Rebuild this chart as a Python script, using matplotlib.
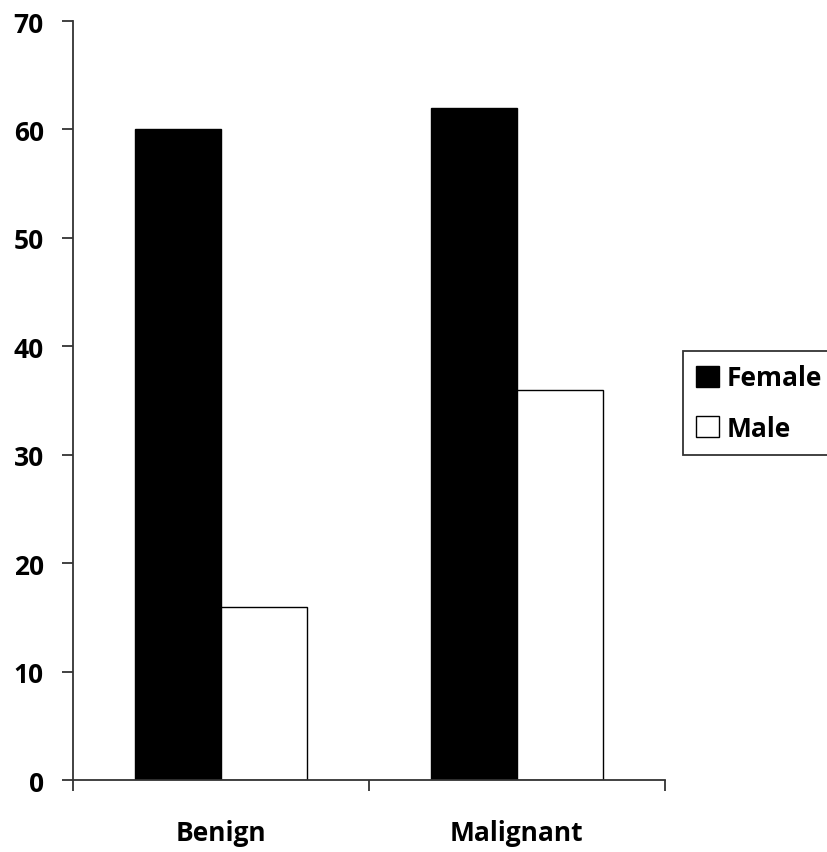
import matplotlib
matplotlib.use("Agg")
import matplotlib.pyplot as plt
import numpy as np

# data
categories = ["Benign", "Malignant"]
female = [60, 62]
male = [16, 36]
y_ticks = [0, 10, 20, 30, 40, 50, 60, 70]

plt.rcParams['font.family'] = ['Open Sans', 'DejaVu Sans']
plt.rcParams['font.weight'] = 'bold'

fig = plt.figure(figsize=(8.27, 8.53), dpi=100)
ax = fig.add_axes([0.0883, 0.0844, 0.7157, 0.8898])

centers = np.arange(len(categories)) + 0.5
width = 0.29
ax.bar(centers - width / 2, female, width, color='black', edgecolor='black',
       linewidth=1, label='Female')
ax.bar(centers + width / 2, male, width, color='white', edgecolor='black',
       linewidth=1, label='Male')

ax.set_xlim(0, len(categories))
ax.set_ylim(0, 70)
ax.set_yticks(y_ticks)
ax.set_xticks(np.arange(len(categories) + 1))
ax.set_xticklabels([])
ax.set_xticks(centers, minor=True)
ax.set_xticklabels(categories, minor=True)

for s in ['top', 'right']:
    ax.spines[s].set_visible(False)
for s in ['left', 'bottom']:
    ax.spines[s].set_color('#333333')
    ax.spines[s].set_linewidth(1.3)

ax.tick_params(axis='y', direction='out', length=8, width=1.3, color='#333333',
               labelsize=19, pad=13)
ax.tick_params(axis='x', which='major', direction='out', length=8, width=1.3,
               color='#333333')
ax.tick_params(axis='x', which='minor', length=0, labelsize=19, pad=28)

leg = fig.legend(loc='upper left', bbox_to_anchor=(0.826, 0.587), fontsize=19,
                 frameon=True, fancybox=False, handlelength=0.85, handleheight=0.85,
                 handletextpad=0.3, borderpad=0.5, labelspacing=0.88,
                 borderaxespad=0)
leg.get_frame().set_edgecolor('black')
leg.get_frame().set_linewidth(1.3)

fig.savefig("out.png", dpi=100)
